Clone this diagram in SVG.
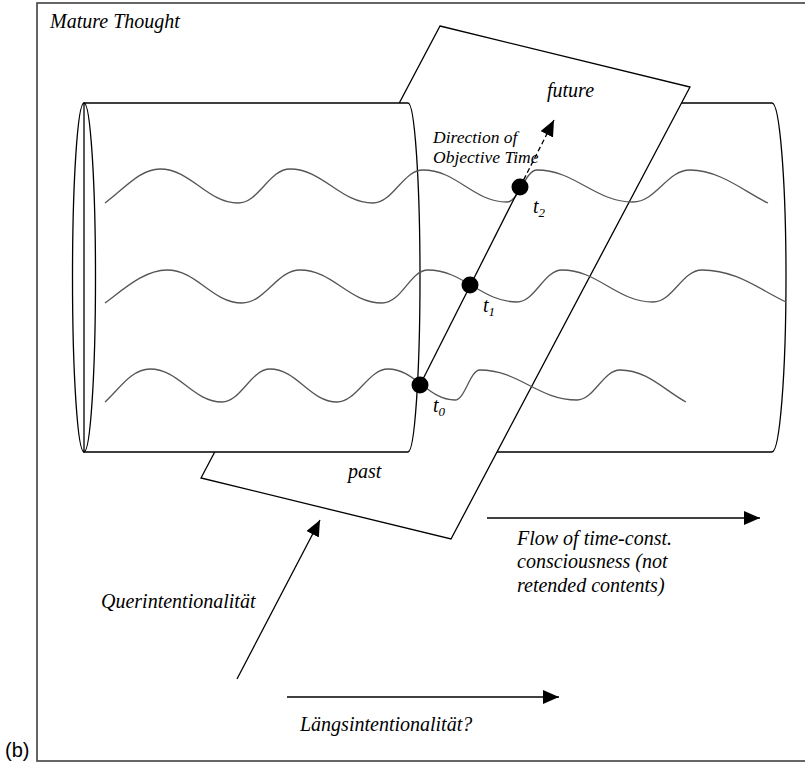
<svg xmlns="http://www.w3.org/2000/svg" width="805" height="765" viewBox="0 0 805 765">
<style>
.ln{stroke:#000;stroke-width:1.3;fill:none}
.sh{stroke:#000;stroke-width:1.3;fill:#fff}
.wv{stroke:#555;stroke-width:1.3;fill:none}
.t{font-family:"Liberation Serif","Times New Roman",serif;font-style:italic;font-size:20px;fill:#000}
.ts{font-family:"Liberation Serif","Times New Roman",serif;font-style:italic;font-size:17.5px;fill:#000}
.sub{font-size:13px}
.sans{font-family:"Liberation Sans",Arial,sans-serif;font-size:20px;fill:#000}
</style>
<defs>
<marker id="ah" markerUnits="userSpaceOnUse" markerWidth="18" markerHeight="16" refX="16" refY="7" orient="auto"><path d="M0,0 L16,7 L0,14 Z" fill="#000"/></marker>
</defs>
<rect width="805" height="765" fill="#fff"/>
<g id="frame">
<rect x="37" y="3" width="790" height="758" fill="none" stroke="#404040" stroke-width="1.6"/>
<text class="t" x="50" y="28">Mature Thought</text>
<text class="sans" x="5" y="757">(b)</text>
</g>
<g id="cylinder-right">
<path class="sh" d="M408,103 L772,103 A14,174.5 0 0 1 772,452 L408,452 Z"/>
</g>
<g id="plane">
<polygon class="sh" points="440,26 690,87 451,539 201,478"/>
<text class="t" x="547" y="97">future</text>
<text class="t" x="348" y="478">past</text>
</g>
<g id="cylinder-left">
<path class="sh" d="M84,103 L408,103 A12,174.5 0 0 1 408,452 L84,452 Z"/>
<ellipse class="ln" cx="84" cy="277.5" rx="11.5" ry="174.5"/>
</g>
<g id="waves">
<path class="wv" d="M105,203 C125,188 140,169 160,169 C191,169 207,203 238,203 C259,203 269,169 290,169 C323,169 340,203 373,203 C393,203 403,170 423,170 C457,170 473,202 507,202 C519,202 525,170 537,170 C575,170 595,202 633,202 C656,202 667,170 690,170 C720,170 745,192 768,203"/>
<path class="wv" d="M105,303 C125,288 145,270 167,270 C197,270 212,303 242,303 C265,303 277,270 300,270 C333,270 349,303 382,303 C402,303 410,270 428,270 C463,270 482,302 517,302 C535,302 544,270 562,270 C598,270 617,302 653,302 C673,302 682,270 702,270 C737,270 760,290 786,302"/>
<path class="wv" d="M105,402 C120,388 132,369 150,369 C179,369 193,402 222,402 C241,402 251,369 270,369 C297,369 310,402 337,402 C357,402 368,369 388,369 C415,369 428,400 455,400 C465,400 470,370 480,370 C519,370 538,400 577,400 C594,400 603,370 620,370 C647,370 664,390 686,402"/>
</g>
<g id="connectors">
<line class="ln" x1="420" y1="385" x2="520" y2="187"/>
<line class="ln" x1="520" y1="187" x2="554" y2="120" stroke-dasharray="5,3" marker-end="url(#ah)"/>
<line class="ln" x1="487" y1="518" x2="760" y2="518" marker-end="url(#ah)"/>
<line class="ln" x1="237" y1="679" x2="320" y2="520" marker-end="url(#ah)"/>
<line class="ln" x1="287" y1="697" x2="559" y2="697" marker-end="url(#ah)"/>
</g>
<g id="t0"><circle cx="420" cy="385" r="8.5" fill="#000"/><text class="t" x="433" y="412">t<tspan class="sub" dy="4">0</tspan></text></g>
<g id="t1"><circle cx="470" cy="285" r="8.5" fill="#000"/><text class="t" x="483" y="312">t<tspan class="sub" dy="4">1</tspan></text></g>
<g id="t2"><circle cx="520" cy="187" r="8.5" fill="#000"/><text class="t" x="533" y="213">t<tspan class="sub" dy="4">2</tspan></text></g>
<g id="direction-label">
<text class="ts" x="433" y="143">Direction of</text>
<text class="ts" x="433" y="163">Objective Time</text>
</g>
<g id="labels">
<text class="t" x="517" y="545">Flow of time-const.</text>
<text class="t" x="517" y="568">consciousness (not</text>
<text class="t" x="517" y="592">retended contents)</text>
<text class="t" x="101" y="608">Querintentionalität</text>
<text class="t" x="300" y="731">Längsintentionalität?</text>
</g>
</svg>
